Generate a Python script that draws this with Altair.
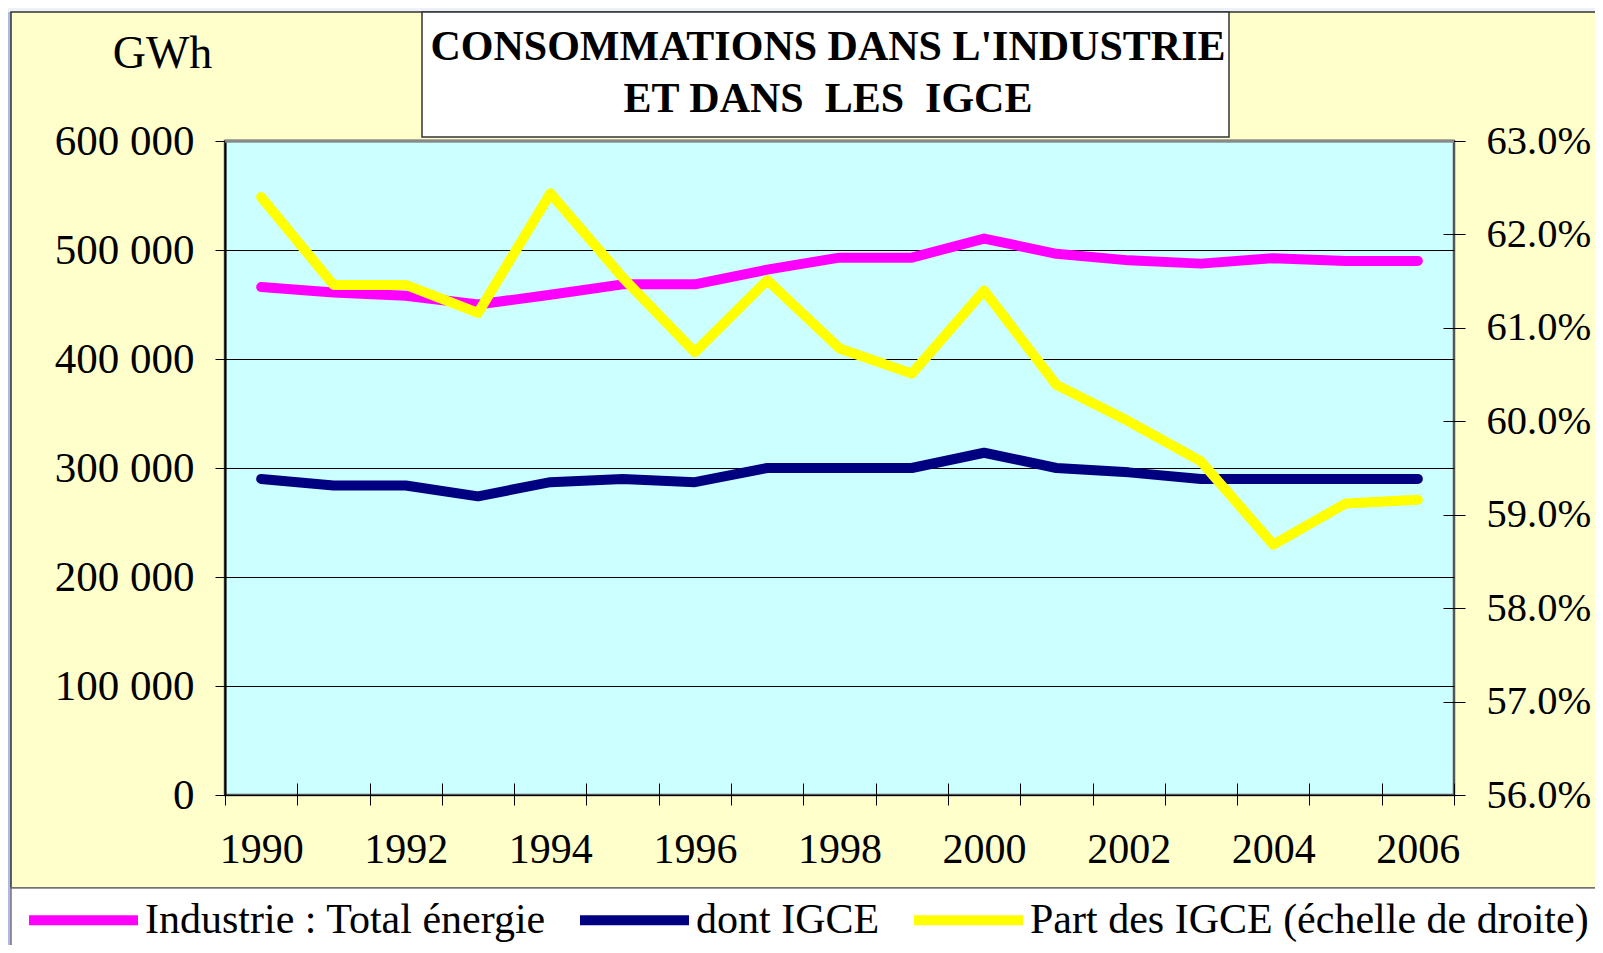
import altair as alt
import pandas as pd

years = list(range(1990, 2007))
industrie = [466000, 461000, 458000, 450000, 459000, 468500, 468500, 482000, 493000,
             493000, 510500, 496500, 490500, 487500, 492500, 490000, 490000]
igce = [290000, 284000, 284000, 274000, 287000, 290000, 287000, 300000, 300000,
        300000, 314000, 300000, 296000, 290000, 290000, 290000, 290000]
part = [62.40, 61.46, 61.46, 61.16, 62.44, 61.54, 60.74, 61.51, 60.78,
        60.51, 61.40, 60.39, 60.00, 59.57, 58.68, 59.12, 59.16]

series_names = ["Industrie : Total énergie", "dont IGCE", "Part des IGCE (échelle de droite)"]
series_colors = ["#FF00FF", "#000080", "#FFFF00"]
left_ticks = [0, 100000, 200000, 300000, 400000, 500000, 600000]
right_ticks = [0.56, 0.57, 0.58, 0.59, 0.60, 0.61, 0.62, 0.63]
title_lines = ["CONSOMMATIONS DANS L'INDUSTRIE", "ET DANS\u00a0 LES\u00a0 IGCE"]
unit_label = "GWh"

FONT = "Liberation Serif"
W, H = 1229, 654

df_left = pd.DataFrame({
    "year": years * 2,
    "value": industrie + igce,
    "series": [series_names[0]] * len(years) + [series_names[1]] * len(years),
})
df_right = pd.DataFrame({
    "year": years,
    "pct": [p / 100 for p in part],
    "series": [series_names[2]] * len(years),
})

x_boundaries = [years[0] - 0.5 + i for i in range(len(years) + 1)]
xscale = alt.Scale(domain=[years[0] - 0.5, years[-1] + 0.5], nice=False, zero=False)
color_scale = alt.Scale(domain=series_names, range=series_colors)

x_axis = alt.Axis(
    values=x_boundaries,
    labelExpr="(datum.value + 0.5) % 2 == 0 ? '' + (datum.value + 0.5) : ''",
    labelOffset=W / len(years) / 2,
    labelFlush=False, labelOverlap=False, labelBound=False,
    offset=-12, tickSize=22, tickColor="black", tickWidth=1,
    domain=False, grid=False, labelPadding=24,
    labelFont=FONT, labelFontSize=42, labelColor="black", title=None,
)

SYM = 109
legend = alt.Legend(
    orient="none", legendX=-201, legendY=920 - 141 - SYM / 2 - 5, direction="horizontal",
    symbolType="stroke", symbolSize=SYM * SYM, symbolStrokeWidth=10,
    labelFont=FONT, labelFontSize=42, labelColor="black", labelOffset=2,
    columnPadding=14, padding=0, title=None, labelLimit=1000,
)

left = alt.Chart(df_left).mark_line(strokeWidth=10, strokeCap="round", strokeJoin="round").encode(
    x=alt.X("year:Q", scale=xscale, axis=x_axis),
    y=alt.Y("value:Q", scale=alt.Scale(domain=[0, 600000], nice=False),
            axis=alt.Axis(orient="left", values=left_ticks,
                          labelExpr="replace(format(datum.value, ','), ',', ' ')",
                          tickSize=10, tickColor="black", domain=True, domainColor="black",
                          domainWidth=2, grid=True, gridColor="black", gridWidth=1,
                          labelPadding=21, labelFont=FONT, labelFontSize=43, labelColor="black",
                          title=unit_label, titleAngle=0, titleX=-63, titleY=-74,
                          titleAlign="center", titleBaseline="alphabetic",
                          titleFont=FONT, titleFontSize=46, titleFontWeight="normal",
                          titleColor="black")),
    color=alt.Color("series:N", scale=color_scale, legend=legend, sort=series_names),
)

right = alt.Chart(df_right).mark_line(strokeWidth=10, strokeCap="round", strokeJoin="round").encode(
    x=alt.X("year:Q", scale=xscale, axis=x_axis),
    y=alt.Y("pct:Q", scale=alt.Scale(domain=[0.56, 0.63], nice=False, zero=False),
            axis=alt.Axis(orient="right", values=right_ticks, format=".1%",
                          offset=-11, tickSize=22, tickColor="black", domain=False, grid=False,
                          labelPadding=21, labelFont=FONT, labelFontSize=40.5, labelColor="black",
                          title=None)),
    color=alt.Color("series:N", scale=color_scale, legend=legend, sort=series_names),
)

one = pd.DataFrame({"a": [0]})


def box(x1, x2, y1, y2, **kw):
    return alt.Chart(one).mark_rect(**kw).encode(
        x=alt.value(x1), x2=alt.value(x2), y=alt.value(y1), y2=alt.value(y2))


left_strip = box(-217, -214, -133, 812, fill="#AEBAE4")
top_strip = box(-217, 1370, -133, -129, fill="#EEF1F8")
panel_border = box(-214, 1400, -129, 747, fillOpacity=0, stroke="#333333", strokeWidth=1.5)
legend_band = box(-214, 1400, 747, 830, fill="white", stroke="#777777", strokeWidth=1.5)
title_box = box(197, 1004, -129, -4, fill="white", stroke="#333333", strokeWidth=1.5)
plot_top_edge = box(0, W, -1.5, 1.5, fill="#888888")


def title_line(txt, yy):
    return alt.Chart(pd.DataFrame({"t": [txt]})).mark_text(
        font=FONT, fontSize=42, fontWeight="bold", color="black",
        align="center", baseline="alphabetic",
    ).encode(text="t:N", x=alt.value(603), y=alt.value(yy))


title1 = title_line(title_lines[0], -81)
title2 = title_line(title_lines[1], -29)

chart = alt.layer(
    left_strip, top_strip, panel_border, legend_band, title_box, title1, title2,
    plot_top_edge, left, right,
).resolve_scale(y="independent").properties(
    width=W, height=H, autosize="none",
    padding={"left": 217, "top": 133, "right": 141, "bottom": 150},
    background="#FFFFCC",
).configure_view(
    fill="#CCFFFF", stroke="#555555", strokeWidth=2.5,
)

chart.save("out.html", embed_options={"renderer": "svg", "actions": False})
